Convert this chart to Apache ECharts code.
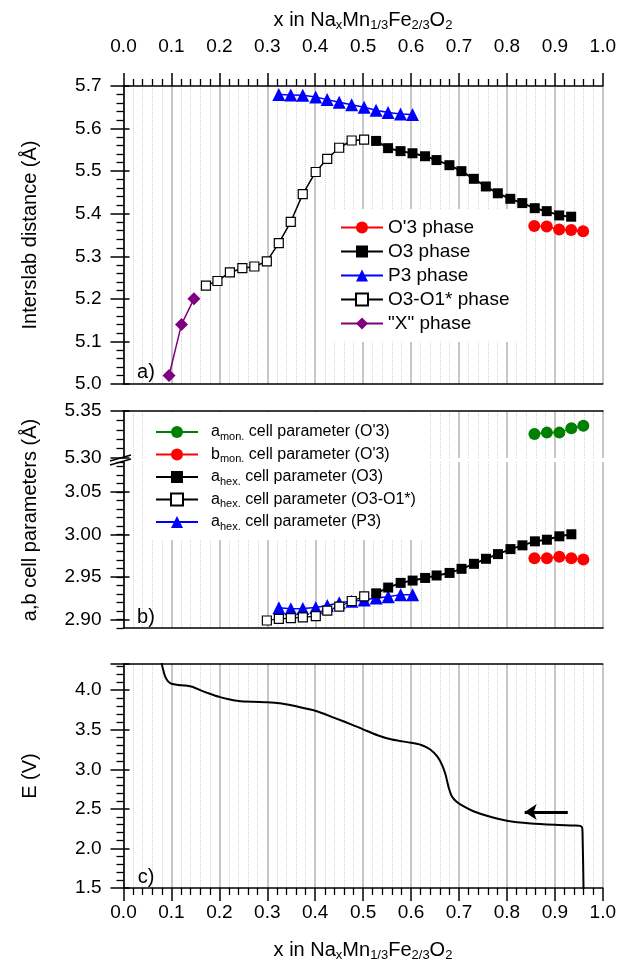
<!DOCTYPE html>
<html><head><meta charset="utf-8">
<script src="https://cdn.jsdelivr.net/npm/echarts@6/dist/echarts.min.js"></script>
<style>html,body{margin:0;padding:0;background:#fff}#c{width:619px;height:965px}</style>
</head><body><div id="c"></div>
<script>
// ---------- Panel a: interslab distance ----------
const X_PHASE_X = [0.095, 0.121, 0.147];
const X_PHASE_Y = [5.020, 5.140, 5.200];
const O3O1_X = [0.172,0.196,0.222,0.248,0.273,0.299,0.324,0.349,0.374,0.401,0.425,0.450,0.476,0.502];
const O3O1_Y = [5.231,5.242,5.262,5.272,5.276,5.288,5.331,5.381,5.446,5.498,5.529,5.555,5.572,5.574];
const O3_X = [0.527,0.552,0.578,0.603,0.629,0.653,0.680,0.705,0.731,0.756,0.781,0.807,0.832,0.858,0.883,0.909,0.934];
const O3_Y = [5.571,5.554,5.547,5.542,5.535,5.526,5.514,5.500,5.482,5.464,5.448,5.435,5.425,5.413,5.406,5.396,5.393];
const OP3_X = [0.857,0.883,0.909,0.934,0.959];
const OP3_Y = [5.371,5.370,5.363,5.362,5.359];
const P3_X = [0.324,0.349,0.374,0.401,0.425,0.450,0.476,0.502,0.527,0.552,0.578,0.603];
const P3_Y = [5.680,5.679,5.678,5.674,5.668,5.662,5.656,5.650,5.643,5.638,5.634,5.633];

// ---------- Panel b: cell parameters ----------
const AMON_Y = [5.3255,5.3270,5.3270,5.3316,5.3344];
const BMON_Y = [2.9720,2.9720,2.9736,2.9720,2.9706];
const AHEX_O3_Y = [2.9307,2.9375,2.9430,2.9457,2.9488,2.9517,2.9547,2.9595,2.9654,2.9713,2.9768,2.9827,2.9871,2.9918,2.9937,2.9977,3.0001];
const AHEX_O3O1_X = [0.299,0.324,0.349,0.374,0.401,0.425,0.450,0.476,0.502];
const AHEX_O3O1_Y = [2.8988,2.9008,2.9015,2.9024,2.9039,2.9103,2.9150,2.9217,2.9272];
const AHEX_P3_Y = [2.9138,2.9126,2.9130,2.9142,2.9165,2.9197,2.9213,2.9228,2.9252,2.9268,2.9292,2.9292];

// ---------- Panel c: potential curve ----------
const E_X = [0.079,0.080,0.083,0.087,0.093,0.100,0.114,0.130,0.145,0.160,0.180,0.200,0.220,0.240,0.270,0.300,0.330,0.360,0.400,0.440,0.480,0.500,0.530,0.560,0.600,0.620,0.640,0.655,0.665,0.672,0.678,0.685,0.695,0.710,0.730,0.760,0.800,0.850,0.900,0.940,0.953,0.957,0.958,0.959,0.960];
const E_V = [4.45,4.33,4.25,4.17,4.11,4.08,4.065,4.058,4.04,4.00,3.955,3.915,3.885,3.862,3.852,3.848,3.830,3.795,3.740,3.650,3.555,3.505,3.430,3.375,3.335,3.310,3.250,3.160,3.050,2.930,2.780,2.660,2.590,2.530,2.470,2.410,2.350,2.315,2.298,2.290,2.285,2.260,2.100,1.800,1.400];
const ARROW_X = [0.927, 0.837];
const ARROW_E = [2.46, 2.46];

// ---------- Tick values ----------
const X_TICK_MIN = 0, X_TICK_MAX = 1, X_TICK_STEP = 0.1;
const YA_TICKS = [5.0,5.1,5.2,5.3,5.4,5.5,5.6,5.7];
const YB_UPPER_TICKS = [5.30, 5.35];
const YB_LOWER_TICKS = [2.90, 2.95, 3.00, 3.05];
const YC_TICKS = [1.5,2.0,2.5,3.0,3.5,4.0];

const LEGEND_A = ["O'3 phase","O3 phase","P3 phase","O3-O1* phase",'"X" phase'];
const LEGEND_B = ['amon','bmon','ahexO3','ahexO3O1','ahexP3'];
const LEGEND_B_TEXT = {
  amon: "{m|a}{s|mon.}{m| cell parameter (O'3)}",
  bmon: "{m|b}{s|mon.}{m| cell parameter (O'3)}",
  ahexO3: "{m|a}{s|hex.}{m| cell parameter (O3)}",
  ahexO3O1: "{m|a}{s|hex.}{m| cell parameter (O3-O1*)}",
  ahexP3: "{m|a}{s|hex.}{m| cell parameter (P3)}"
};

const FONT = '"Liberation Sans", Arial, sans-serif';
const zip = (xs, ys) => xs.map((x, i) => [x, ys[i]]);

const GL = 123.5, GW = 479.5;
const grids = [
  {left: GL, width: GW, top: 86, height: 298},
  {left: GL, width: GW, top: 411, height: 47},
  {left: GL, width: GW, top: 462, height: 166},
  {left: GL, width: GW, top: 664, height: 224}
];

const axisLineStyle = {show: true, onZero: false, lineStyle: {color: '#000', width: 1.6}};
const splitMajor = {show: true, lineStyle: {color: '#b4b4b4', width: 1.5}};
const splitMinor = {show: true, lineStyle: {color: '#d2d2d2', width: 1, type: 'dotted'}};
const labelStyle = {fontFamily: FONT, fontSize: 19, color: '#000'};

function xAx(g, pos, opts) {
  return Object.assign({
    type: 'value', gridIndex: g, position: pos, min: X_TICK_MIN, max: X_TICK_MAX, interval: X_TICK_STEP,
    axisLine: axisLineStyle, axisTick: {show: false}, minorTick: {show: false, splitNumber: 5},
    axisLabel: {show: false}, splitLine: {show: false}, minorSplitLine: {show: false}
  }, opts);
}
function yAx(g, opts) {
  return Object.assign({
    type: 'value', gridIndex: g, position: 'left', offset: 0,
    axisLine: {show: false, onZero: false}, axisTick: {show: false}, minorTick: {show: false},
    axisLabel: {show: false}, splitLine: {show: false}
  }, opts);
}
const outTick = {show: true, inside: false, length: 13, lineStyle: {color: '#000', width: 1.5}};
const outMinor = {show: true, splitNumber: 5, length: 7, lineStyle: {color: '#000', width: 1.3}};
const inTick = {show: true, inside: true, length: 6, lineStyle: {color: '#000', width: 1.5}};

const xAxes = [
  xAx(0, 'bottom', {splitLine: splitMajor, minorSplitLine: splitMinor}),
  xAx(0, 'top', {axisTick: outTick, minorTick: outMinor,
    axisLabel: Object.assign({show: true, margin: 30, formatter: v => v.toFixed(1)}, labelStyle)}),
  xAx(1, 'top', {splitLine: splitMajor, minorSplitLine: splitMinor}),
  xAx(2, 'bottom', {splitLine: splitMajor, minorSplitLine: splitMinor}),
  xAx(3, 'bottom', {splitLine: splitMajor, minorSplitLine: splitMinor, axisTick: outTick, minorTick: outMinor,
    axisLabel: Object.assign({show: true, margin: 15, formatter: v => v.toFixed(1)}, labelStyle)}),
  xAx(3, 'top', {})
];

const yAxes = [
  // panel a
  yAx(0, {min: YA_TICKS[0], max: YA_TICKS[YA_TICKS.length-1], interval: 0.1, axisLine: axisLineStyle,
    axisTick: outTick, minorTick: outMinor,
    axisLabel: Object.assign({show: true, margin: 22, formatter: v => v.toFixed(1)}, labelStyle)}),
  yAx(0, {min: YA_TICKS[0], max: YA_TICKS[YA_TICKS.length-1], interval: 0.1, axisTick: inTick}),
  // panel b upper
  yAx(1, {min: YB_UPPER_TICKS[0], max: YB_UPPER_TICKS[1], interval: 0.05, axisLine: axisLineStyle,
    axisTick: outTick, minorTick: outMinor,
    axisLabel: Object.assign({show: true, margin: 22, formatter: v => v.toFixed(2)}, labelStyle)}),
  yAx(1, {min: YB_UPPER_TICKS[0], max: YB_UPPER_TICKS[1], interval: 0.05, axisTick: inTick}),
  // panel b lower (minor ticks every 0.01)
  yAx(2, {min: 2.89, max: 3.085, interval: 0.01, axisLine: axisLineStyle,
    axisTick: {show: true, length: 7, lineStyle: {color: '#000', width: 1.3}}}),
  yAx(2, {min: 2.89, max: 3.085,
    axisTick: Object.assign({}, outTick, {customValues: YB_LOWER_TICKS}),
    axisLabel: Object.assign({show: true, margin: 22, customValues: YB_LOWER_TICKS, formatter: v => v.toFixed(2)}, labelStyle)}),
  yAx(2, {min: 2.89, max: 3.085, axisTick: Object.assign({}, inTick, {customValues: YB_LOWER_TICKS})}),
  // panel c
  yAx(3, {min: YC_TICKS[0], max: 4.33, interval: 0.5, axisLine: axisLineStyle,
    axisTick: outTick, minorTick: outMinor,
    axisLabel: Object.assign({show: true, margin: 22, showMaxLabel: false, formatter: v => v.toFixed(1)}, labelStyle)}),
  yAx(3, {min: YC_TICKS[0], max: 4.33, interval: 0.5, axisTick: inTick})
];

function sc(name, xi, yi, data, o) {
  return Object.assign({
    name, type: 'line', xAxisIndex: xi, yAxisIndex: yi, data, animation: false,
    symbolKeepAspect: true, showAllSymbol: true
  }, o);
}
const RED = '#ff0000', BLUE = '#0000ff', PURPLE = '#800080', GREEN = '#008000';

const series = [
  sc("O'3 phase", 0, 0, zip(OP3_X, OP3_Y), {symbol: 'circle', symbolSize: 12, itemStyle: {color: RED}, lineStyle: {color: RED, width: 1.5}}),
  sc("O3 phase", 0, 0, zip(O3_X, O3_Y), {symbol: 'rect', symbolSize: 10, itemStyle: {color: '#000'}, lineStyle: {color: '#000', width: 2}}),
  sc("P3 phase", 0, 0, zip(P3_X, P3_Y), {symbol: 'triangle', symbolSize: 13, itemStyle: {color: BLUE}, lineStyle: {color: BLUE, width: 1.5}}),
  sc("O3-O1* phase", 0, 0, zip(O3O1_X, O3O1_Y), {symbol: 'rect', symbolSize: 9, itemStyle: {color: '#fff', borderColor: '#000', borderWidth: 1.2}, lineStyle: {color: '#000', width: 1.5}}),
  sc('"X" phase', 0, 0, zip(X_PHASE_X, X_PHASE_Y), {symbol: 'diamond', symbolSize: 13, itemStyle: {color: PURPLE}, lineStyle: {color: PURPLE, width: 1.5}}),

  sc('amon', 2, 2, zip(OP3_X, AMON_Y), {symbol: 'circle', symbolSize: 12, itemStyle: {color: GREEN}, lineStyle: {color: GREEN, width: 1.5}}),
  sc('bmon', 3, 4, zip(OP3_X, BMON_Y), {symbol: 'circle', symbolSize: 12, itemStyle: {color: RED}, lineStyle: {color: RED, width: 1.5}}),
  sc('ahexP3', 3, 4, zip(P3_X, AHEX_P3_Y), {symbol: 'triangle', symbolSize: 13, itemStyle: {color: BLUE}, lineStyle: {color: BLUE, width: 1.5}}),
  sc('ahexO3', 3, 4, zip(O3_X, AHEX_O3_Y), {symbol: 'rect', symbolSize: 10, itemStyle: {color: '#000'}, lineStyle: {color: '#000', width: 2}}),
  sc('ahexO3O1', 3, 4, zip(AHEX_O3O1_X, AHEX_O3O1_Y), {symbol: 'rect', symbolSize: 9, itemStyle: {color: '#fff', borderColor: '#000', borderWidth: 1.2}, lineStyle: {color: '#000', width: 1.2}}),

  sc('E', 4, 7, zip(E_X, E_V), {symbol: 'none', smooth: 0.25, lineStyle: {color: '#000', width: 2}, clip: true,
    markLine: {silent: true, symbol: ['none', 'arrow'], symbolSize: 12, label: {show: false},
      lineStyle: {color: '#000', width: 3, type: 'solid'},
      data: [[{coord: [ARROW_X[0], ARROW_E[0]]}, {coord: [ARROW_X[1], ARROW_E[1]]}]]}})
];

const legendA = {
  data: LEGEND_A, orient: 'vertical', left: 326, top: 209, itemWidth: 42, itemHeight: 15, itemGap: 3,
  backgroundColor: '#fff', padding: [8, 14, 8, 14], selectedMode: false,
  textStyle: {fontFamily: FONT, fontSize: 19, color: '#000', lineHeight: 21}
};
const legendB = {
  data: LEGEND_B, orient: 'vertical', left: 145, top: 412, itemWidth: 42, itemHeight: 15, itemGap: 4.5,
  backgroundColor: '#fff', padding: [12, 14, 8, 10], selectedMode: false,
  formatter: n => LEGEND_B_TEXT[n],
  textStyle: {fontFamily: FONT, fontSize: 16, color: '#000', padding: [0, 0, 0, 8],
    rich: {m: {fontFamily: FONT, fontSize: 16, color: '#000', lineHeight: 20},
           s: {fontFamily: FONT, fontSize: 11, color: '#000', lineHeight: 12, verticalAlign: 'bottom'}}}
};

const titleRich = {m: {fontFamily: FONT, fontSize: 20, color: '#000', lineHeight: 24},
                   s: {fontFamily: FONT, fontSize: 13, color: '#000', lineHeight: 14, verticalAlign: 'bottom'}};
const xTitle = '{m|x in Na}{s|x}{m|Mn}{s|1/3}{m|Fe}{s|2/3}{m|O}{s|2}';
function txt(x, y, text, size, rot) {
  return {type: 'text', x, y, rotation: rot || 0, z: 100,
    style: {text, fontFamily: FONT, fontSize: size, fill: '#000', align: 'center', verticalAlign: 'middle'}};
}
const graphic = [
  {type: 'text', x: 363, y: 20, z: 100, style: {text: xTitle, rich: titleRich, align: 'center', verticalAlign: 'middle', fontFamily: FONT, fontSize: 20}},
  {type: 'text', x: 363, y: 950, z: 100, style: {text: xTitle, rich: titleRich, align: 'center', verticalAlign: 'middle', fontFamily: FONT, fontSize: 20}},
  txt(30, 235, 'Interslab distance (Å)', 20, Math.PI / 2),
  txt(30, 520, 'a,b cell parameters (Å)', 20, Math.PI / 2),
  txt(30, 776, 'E (V)', 20, Math.PI / 2),
  txt(146, 372, 'a)', 20),
  txt(146, 617, 'b)', 20),
  txt(146, 877, 'c)', 20),
  {type: 'line', z: 100, shape: {x1: 110, y1: 461, x2: 131, y2: 455}, style: {stroke: '#000', lineWidth: 1.5}},
  {type: 'line', z: 100, shape: {x1: 110, y1: 465, x2: 131, y2: 459}, style: {stroke: '#000', lineWidth: 1.5}}
];

const chart = echarts.init(document.getElementById('c'), null, {renderer: 'canvas'});
chart.setOption({
  backgroundColor: '#fff', animation: false,
  grid: grids, xAxis: xAxes, yAxis: yAxes, series,
  legend: [legendA, legendB], graphic
});
</script>
</body></html>
